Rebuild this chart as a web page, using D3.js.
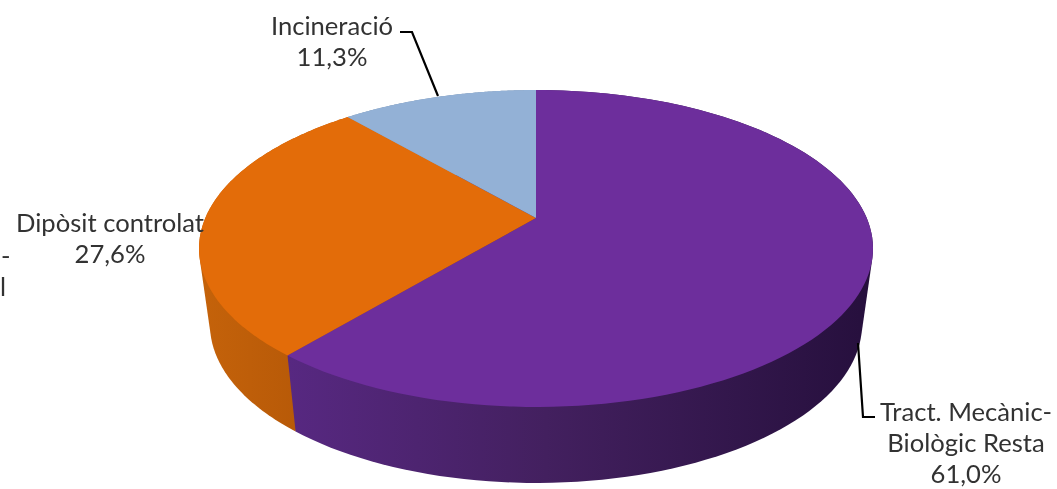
<!DOCTYPE html>
<html><head><meta charset="utf-8">
<script src="https://cdn.jsdelivr.net/npm/d3@7"></script>
<style>html,body{margin:0;padding:0;background:#fff;overflow:hidden}svg{display:block}text{font-family:Lato,"Open Sans",sans-serif;fill:#333}</style>
</head><body><div id="chart"></div>
<script>
const categories = ["Tract. Mecànic-Biològic Resta", "Dipòsit controlat", "Incineració"];
const values = [61.0, 27.6, 11.3];
const valueLabels = ["61,0%", "27,6%", "11,3%"];
const topColors = ["#6d2e9c", "#e36c09", "#93b1d6"];
const labelLines = [["Tract. Mecànic-", "Biològic Resta", "61,0%"], ["Dipòsit controlat", "27,6%"], ["Incineració", "11,3%"]];
const labelAnchors = [[966, 421], [110, 232], [332, 35]];
const leaders = [[[858, 343], [863, 417], [875, 417]], null, [[438, 96], [412, 32], [400, 32]]];
const croppedFragments = [["-", 1, 265], ["l", 0, 296]];

const W = 1057, H = 489;
const svg = d3.select("#chart").append("svg").attr("width", W).attr("height", H);
const defs = svg.append("defs");
defs.append("filter").attr("id", "soft").append("feGaussianBlur").attr("stdDeviation", 0.4);

// projective mapping of the pie disc
const cx = 536, cy = 218, B = 330.7, A = 152.6, k = 0.1924;
const project = a => {
  const s = Math.sin(a), c = Math.cos(a), d = 1 + k * c;
  return [cx + B * s / d, cy - A * c / d];
};
const depthX = 0.9675, offsetX = 0, depthY = 76;
const lower = ([x, y]) => [cx + offsetX + (x - cx) * depthX, y + depthY];

const arcs = d3.pie().sort(null).value(d => d)(values);
const sample = d => d3.range(0, 121).map(i => d.startAngle + (d.endAngle - d.startAngle) * i / 120);

const sideStops = [
  [["0", "#572881"], ["0.45", "#43205f"], ["1", "#27103e"]],
  [["0", "#c4620a"], ["1", "#b85a08"]],
  [["0", "#7c93b0"], ["1", "#7c93b0"]]
];
const sideRange = [[289, 860], [205, 295], [340, 540]];
arcs.forEach((d, i) => {
  const g = defs.append("linearGradient").attr("id", "side" + i)
    .attr("gradientUnits", "userSpaceOnUse")
    .attr("x1", sideRange[i][0]).attr("x2", sideRange[i][1]).attr("y1", 0).attr("y2", 0);
  sideStops[i].forEach(s => g.append("stop").attr("offset", s[0]).attr("stop-color", s[1]));
});

// walls, back to front
[2, 1, 0].forEach(i => {
  const pts = sample(arcs[i]).map(project);
  const hull = d3.polygonHull(pts.concat(pts.map(lower)));
  svg.append("path").attr("d", "M" + hull.join("L") + "Z").attr("fill", `url(#side${i})`);
});

// top faces
const line = d3.line();
arcs.forEach((d, i) => {
  const pts = sample(d).map(project);
  svg.append("path").attr("d", line([[cx, cy], ...pts]) + "Z").attr("fill", topColors[i]);
});

// leaders
leaders.filter(Boolean).forEach(l => {
  svg.append("path").attr("d", line(l)).attr("fill", "none").attr("stroke", "#000").attr("stroke-width", 2.2);
});

// labels
const textLayer = svg.append("g").attr("filter", "url(#soft)");
labelLines.forEach((lines, i) => {
  const t = textLayer.append("text").attr("text-anchor", "middle").attr("font-size", 25.6);
  lines.forEach((s, j) => t.append("tspan").attr("x", labelAnchors[i][0]).attr("y", labelAnchors[i][1] + j * 31).text(s));
});
croppedFragments.forEach(f => {
  textLayer.append("text").attr("text-anchor", "start").attr("font-size", 25.6).attr("x", f[1]).attr("y", f[2]).text(f[0]);
});
</script></body></html>
